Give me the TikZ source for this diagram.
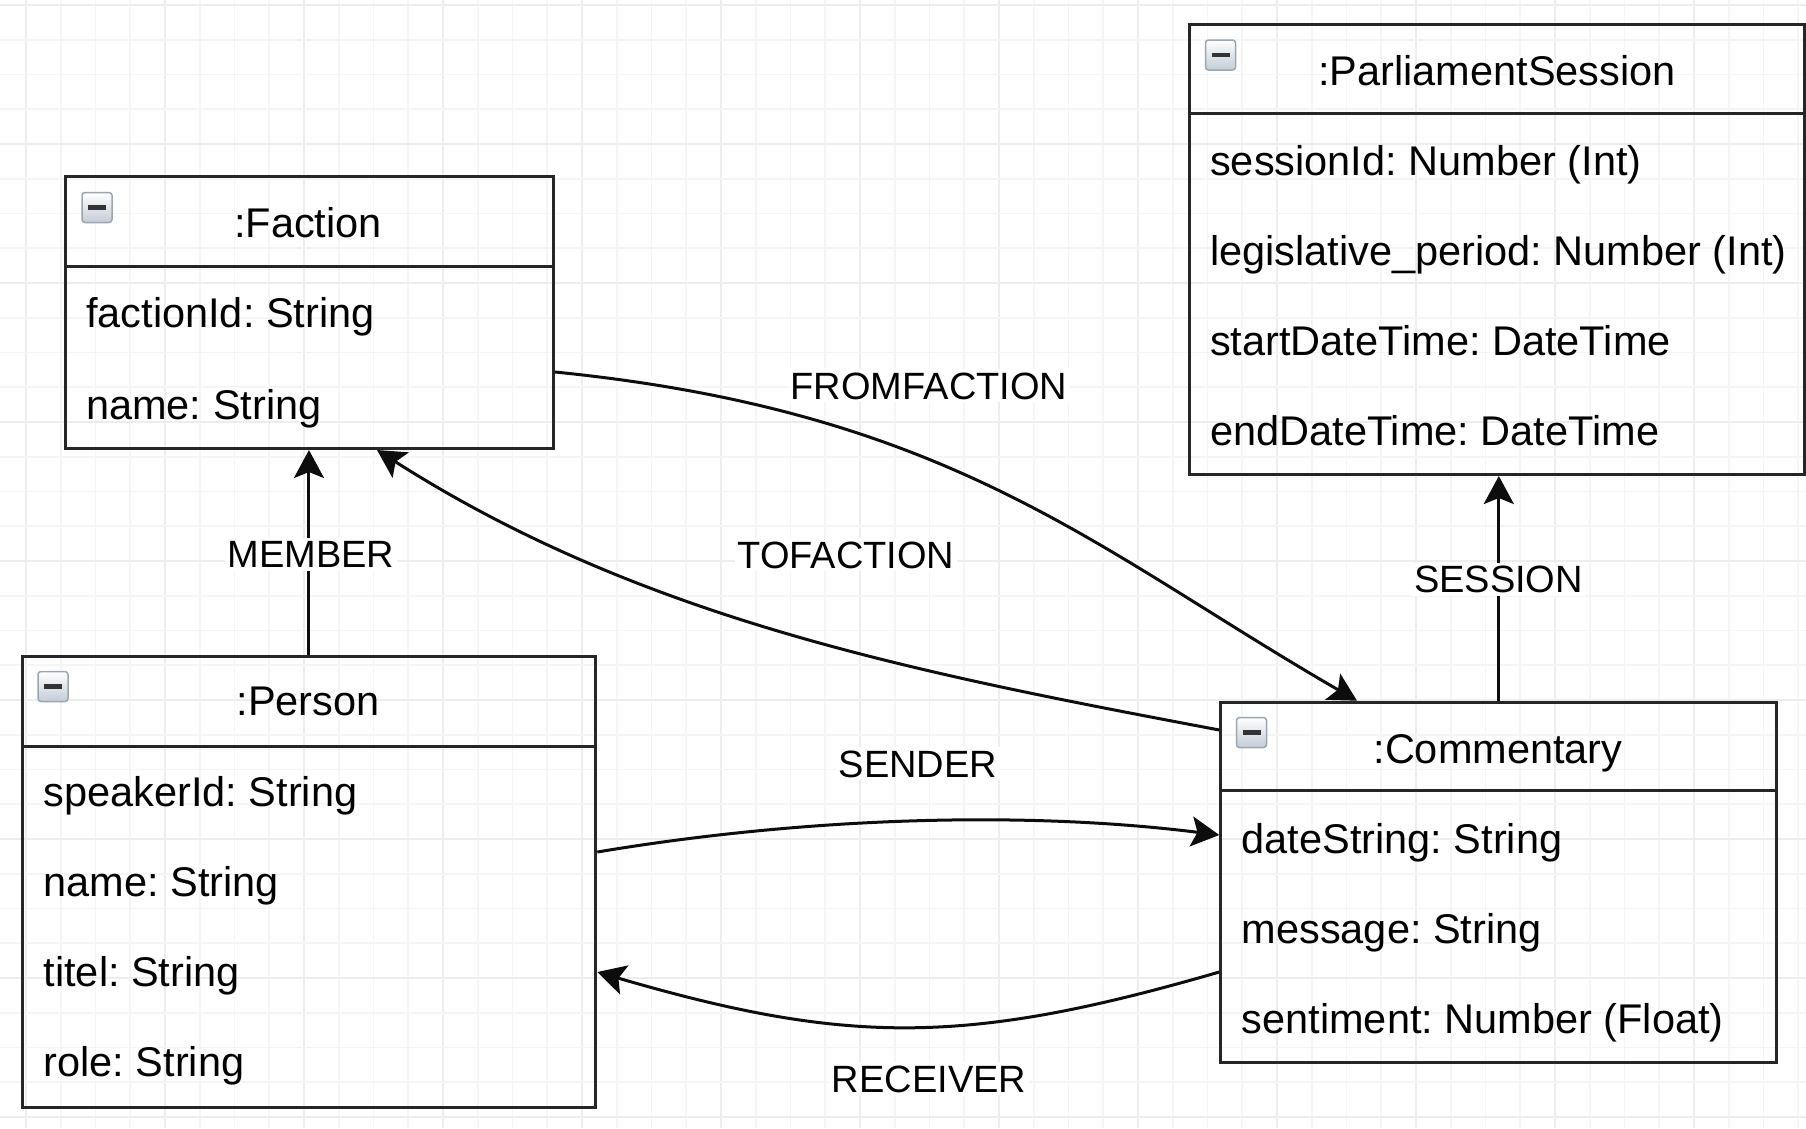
\documentclass[tikz,border=0pt]{standalone}
\usepackage{fontspec}
\setmainfont{Liberation Sans}
\usetikzlibrary{arrows.meta,calc}
\frenchspacing
\newcommand\attrfont{\fontsize{41.5}{48}\selectfont}
\newcommand\lblfont{\fontsize{38}{44}\selectfont}
\definecolor{iconborder}{HTML}{9AA6B2}
\definecolor{iconbottom}{HTML}{C3CCD6}
\tikzset{
  umlbox/.style={draw=black!85, line width=3pt, inner sep=0pt, anchor=north west},
  attr/.style={anchor=base west, inner sep=0pt, font=\attrfont},
  ttl/.style={anchor=base, inner sep=0pt, font=\attrfont},
  lbl/.style={anchor=base, fill=white, inner sep=3pt, font=\lblfont},
  conn/.style={line width=3pt, black!95, -{Stealth[length=28pt,width=30pt,inset=6pt]}},
  divider/.style={draw=black!85, line width=3pt},
  icon/.style={draw=iconborder, line width=1.5pt, rounded corners=3pt, top color=white, bottom color=iconbottom, minimum size=30pt, inner sep=0pt},
  minorgrid/.style={draw=black!4, line width=1.8pt},
  majorgrid/.style={draw=black!7, line width=2.2pt}
}
\begin{document}
\begin{tikzpicture}[x=1pt,y=-1pt]
\useasboundingbox (0,0) rectangle (1806,1128);
\fill[white] (0,0) rectangle (1806,1128);
% grid
\foreach \k in {0,...,51}{
  \pgfmathsetmacro\gx{26+34.75*\k}
  \pgfmathtruncatemacro\m{mod(\k,4)}
  \ifnum\m=0 \draw[majorgrid] (\gx,0) -- (\gx,1128); \else \draw[minorgrid] (\gx,0) -- (\gx,1128); \fi
}
\foreach \k in {0,...,32}{
  \pgfmathsetmacro\gy{5+34.75*\k}
  \pgfmathtruncatemacro\m{mod(\k,4)}
  \ifnum\m=0 \draw[majorgrid] (0,\gy) -- (1806,\gy); \else \draw[minorgrid] (0,\gy) -- (1806,\gy); \fi
}

% Faction
\node[umlbox, minimum width=488pt, minimum height=272pt] (fac) at (64,175) {};
\draw[divider] (fac.west |- 0,266.7) -- (fac.east |- 0,266.7);
\node[icon] (facicon) at (97,207.5) {};
\fill[black!80] ([xshift=-9pt,yshift=-2.3pt]facicon.center) rectangle +(18pt,4.6pt);
\node[ttl] (factitle) at (308,237.5) {:Faction};
\node[attr] (fac1) at (86,327.5) {factionId: String};
\node[attr] (fac2) at (86,419) {name: String};

% ParliamentSession
\node[umlbox, minimum width=615pt, minimum height=450.3pt] (ps) at (1188,22.7) {};
\draw[divider] (ps.west |- 0,113.3) -- (ps.east |- 0,113.3);
\node[icon] (psicon) at (1220.5,55) {};
\fill[black!80] ([xshift=-9pt,yshift=-2.3pt]psicon.center) rectangle +(18pt,4.6pt);
\node[ttl] (pstitle) at (1497,85) {:ParliamentSession};
\node[attr] (ps1) at (1210,175) {sessionId: Number (Int)};
\node[attr] (ps2) at (1210,265) {legislative\_period: Number (Int)};
\node[attr] (ps3) at (1210,355) {startDateTime: DateTime};
\node[attr] (ps4) at (1210,445) {endDateTime: DateTime};

% Person
\node[umlbox, minimum width=573.7pt, minimum height=451pt] (per) at (20.6,655) {};
\draw[divider] (per.west |- 0,746) -- (per.east |- 0,746);
\node[icon] (pericon) at (53,686.5) {};
\fill[black!80] ([xshift=-9pt,yshift=-2.3pt]pericon.center) rectangle +(18pt,4.6pt);
\node[ttl] (pertitle) at (308,715.5) {:Person};
\node[attr] (per1) at (43.5,806.7) {speakerId: String};
\node[attr] (per2) at (43.5,896.7) {name: String};
\node[attr] (per3) at (43.5,986.5) {titel: String};
\node[attr] (per4) at (43.5,1076.5) {role: String};

% Commentary
\node[umlbox, minimum width=556pt, minimum height=360pt] (com) at (1219.3,700.7) {};
\draw[divider] (com.west |- 0,790.7) -- (com.east |- 0,790.7);
\node[icon] (comicon) at (1251.5,732.5) {};
\fill[black!80] ([xshift=-9pt,yshift=-2.3pt]comicon.center) rectangle +(18pt,4.6pt);
\node[ttl] (comtitle) at (1498,763) {:Commentary};
\node[attr] (com1) at (1241.5,853) {dateString: String};
\node[attr] (com2) at (1241.5,943) {message: String};
\node[attr] (com3) at (1241.5,1033) {sentiment: Number (Float)};

% connectors
\draw[conn] (per.north) -- (per.north |- fac.south);
\draw[conn] (com.north) -- (com.north |- ps.south);
\draw[conn] (fac.east |- 0,372) .. controls (953,412) and (1096,550) .. (1357,0 |- com.north);
\draw[conn] (com.west |- 0,730) .. controls (923,674) and (645,621) .. (377,0 |- fac.south);
\draw[conn] (per.east |- 0,852) .. controls (800,818) and (1020,810) .. (com.west |- 0,835);
\draw[conn] (com.west |- 0,972) .. controls (966.5,1045.4) and (848.5,1045.4) .. (per.east |- 0,972);

% labels
\node[lbl] (lmember) at (311,567.5) {MEMBER};
\node[lbl] (lsession) at (1498.5,592.5) {SESSION};
\node[lbl] (lfrom) at (929,399) {FROMFACTION};
\node[lbl] (lto) at (846,568) {TOFACTION};
\node[lbl] (lsender) at (918,777) {SENDER};
\node[lbl] (lreceiver) at (929,1092) {RECEIVER};
\end{tikzpicture}
\end{document}
